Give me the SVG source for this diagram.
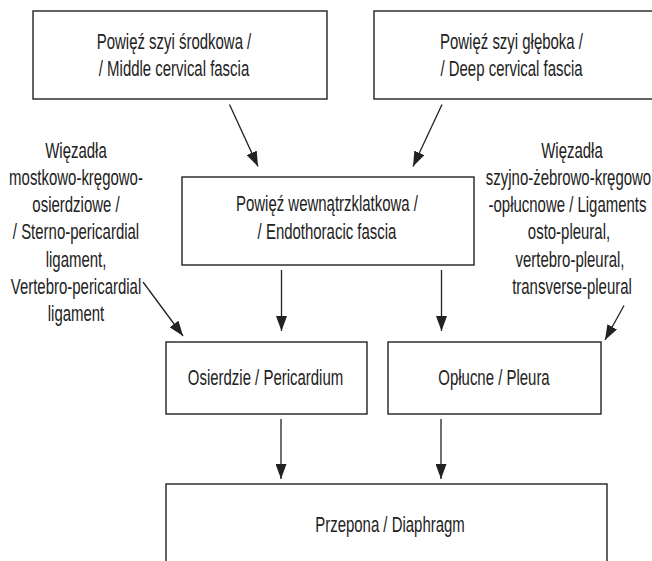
<svg xmlns="http://www.w3.org/2000/svg" width="652" height="561" viewBox="0 0 652 561">
<style>
.box{fill:#fff;stroke:#222;stroke-width:1.4}
.t{font-family:"Liberation Sans",Arial,sans-serif;font-size:22.5px;fill:#222;text-anchor:middle}
.c{stroke:#222;stroke-width:1.3;fill:none;marker-end:url(#ah)}
</style>
<defs>
<marker id="ah" markerUnits="userSpaceOnUse" markerWidth="16" markerHeight="11" refX="15" refY="5.5" orient="auto">
<path d="M0,0 L15,5.5 L0,11 Z" fill="#222"/>
</marker>
</defs>
<rect width="652" height="561" fill="#fff"/>
<g id="connectors">
<line class="c" x1="229.5" y1="104.5" x2="258" y2="166.5"/>
<line class="c" x1="442" y1="104.5" x2="413" y2="166.5"/>
<line class="c" x1="281.5" y1="270" x2="281.5" y2="331"/>
<line class="c" x1="441.5" y1="270" x2="441.5" y2="331"/>
<line class="c" x1="143" y1="282" x2="183" y2="336"/>
<line class="c" x1="624" y1="305.5" x2="605" y2="340"/>
<line class="c" x1="281" y1="419" x2="281" y2="479"/>
<line class="c" x1="441" y1="419" x2="441" y2="479"/>
</g>
<g id="middle-cervical">
<rect class="box" x="33" y="11" width="294" height="88"/>
<text class="t" transform="translate(174 48.5) scale(0.665 1)">Powięź szyi środkowa /</text>
<text class="t" transform="translate(174 76) scale(0.665 1)">/ Middle cervical fascia</text>
</g>
<g id="deep-cervical">
<rect class="box" x="374" y="11" width="280" height="88"/>
<text class="t" transform="translate(511.5 48.5) scale(0.665 1)">Powięź szyi głęboka /</text>
<text class="t" transform="translate(511.5 76) scale(0.665 1)">/ Deep cervical fascia</text>
</g>
<g id="endothoracic">
<rect class="box" x="182" y="177" width="292" height="88"/>
<text class="t" transform="translate(327 211) scale(0.665 1)">Powięź wewnątrzklatkowa /</text>
<text class="t" transform="translate(327 238.5) scale(0.665 1)">/ Endothoracic fascia</text>
</g>
<g id="left-ligaments">
<text class="t" transform="translate(76 157.5) scale(0.665 1)">Więzadła</text>
<text class="t" transform="translate(76 184.5) scale(0.665 1)">mostkowo-kręgowo-</text>
<text class="t" transform="translate(76 211.5) scale(0.665 1)">osierdziowe /</text>
<text class="t" transform="translate(76 239) scale(0.665 1)">/ Sterno-pericardial</text>
<text class="t" transform="translate(76 266.5) scale(0.665 1)">ligament,</text>
<text class="t" transform="translate(76 293.5) scale(0.665 1)">Vertebro-pericardial</text>
<text class="t" transform="translate(76 321) scale(0.665 1)">ligament</text>
</g>
<g id="right-ligaments">
<text class="t" transform="translate(572 157.5) scale(0.665 1)">Więzadła</text>
<text class="t" transform="translate(568.5 184.5) scale(0.665 1)">szyjno-żebrowo-kręgowo</text>
<text class="t" transform="translate(567.5 211.5) scale(0.665 1)">-opłucnowe / Ligaments</text>
<text class="t" transform="translate(569 239) scale(0.665 1)">osto-pleural,</text>
<text class="t" transform="translate(570 266.5) scale(0.665 1)">vertebro-pleural,</text>
<text class="t" transform="translate(572 293.5) scale(0.665 1)">transverse-pleural</text>
</g>
<g id="pericardium">
<rect class="box" x="166" y="342" width="201" height="72"/>
<text class="t" transform="translate(265.5 384.5) scale(0.665 1)">Osierdzie / Pericardium</text>
</g>
<g id="pleura">
<rect class="box" x="388" y="342" width="213" height="72"/>
<text class="t" transform="translate(494 384.5) scale(0.665 1)">Opłucne / Pleura</text>
</g>
<g id="diaphragm">
<rect class="box" x="166" y="484" width="441" height="100"/>
<text class="t" transform="translate(390 532) scale(0.665 1)">Przepona / Diaphragm</text>
</g>
</svg>
